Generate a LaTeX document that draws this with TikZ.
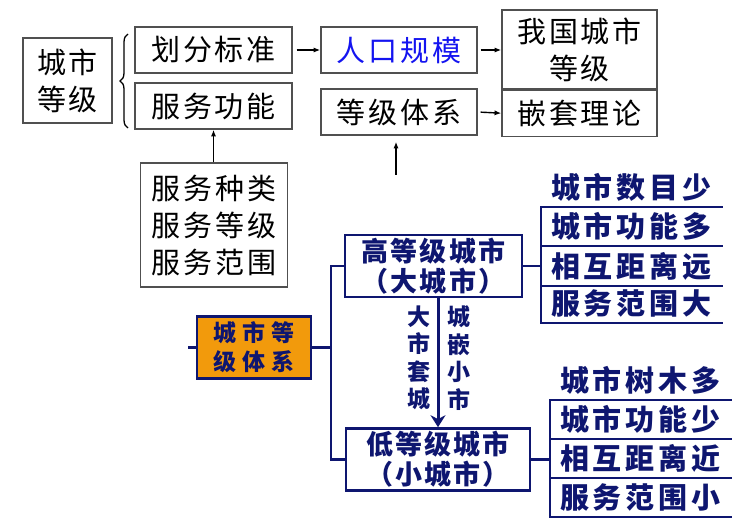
\documentclass[tikz,border=0pt]{standalone}
\usepackage{fontspec}
\usetikzlibrary{arrows.meta, positioning, calc, decorations.pathreplacing}
\newfontfamily\cjktop[LetterSpace=10]{Noto Sans CJK SC}
\newfontfamily\cjkbig[LetterSpace=13]{Noto Sans CJK SC}
\newfontfamily\cjkbox[LetterSpace=8]{Noto Sans CJK SC}
\newfontfamily\cjkora[LetterSpace=28]{Noto Sans CJK SC}
\definecolor{navy}{HTML}{0E1670}
\definecolor{boxgray}{HTML}{505050}
\definecolor{popblue}{HTML}{1414F0}
\definecolor{sysorange}{HTML}{F29A0C}

\begin{document}
\begin{tikzpicture}[x=1pt, y=-1pt,
    topbox/.style={rectangle, draw=boxgray, line width=1.2pt, inner sep=0pt, align=center,
                   font=\cjktop\fontsize{29}{37}\selectfont},
    arrow/.style={-{Latex[length=2.4mm, width=1.8mm]}, line width=1.4pt},
    navline/.style={navy, line width=2.6pt, line cap=rect},
    navbox/.style={rectangle, draw=navy, line width=2.6pt, fill=white, inner sep=0pt, align=center,
                   text=navy, font=\cjkbox\bfseries\fontsize{27}{30}\selectfont},
    sysbox/.style={navbox, fill=sysorange, font=\cjkora\bfseries\fontsize{23}{29}\selectfont},
    item/.style={anchor=south west, minimum width=180pt, minimum height=39pt, inner sep=0pt,
                 text=navy, font=\cjkbig\bfseries\fontsize{29}{33}\selectfont},
    vlab/.style={align=center, inner sep=0pt, text=navy,
                 font=\cjkbig\bfseries\fontsize{23}{27.5}\selectfont}
  ]
  \useasboundingbox (0,0) rectangle (742,524);

  % upper part
  \node[topbox, minimum width=89pt, minimum height=85pt] (grade) at (67.5,80.5) {城市\\等级};
  \node[topbox, minimum width=157pt, minimum height=46pt] (std) at (213.5,50) {划分标准};
  \node[topbox, minimum width=157pt, minimum height=46pt] (svc) at (213.5,106) {服务功能};
  \node[topbox, minimum width=156pt, minimum height=46pt, text=popblue] (pop) at (399,50) {人口规模};
  \node[topbox, minimum width=156pt, minimum height=46pt] (hier) at (399,112) {等级体系};
  \node[topbox, minimum width=155pt, minimum height=79pt] (cn) at (579.5,49.5) {我国城市\\等级};
  \node[topbox, minimum width=155pt, minimum height=46pt, below=0pt of cn] (nest) {嵌套理论};
  \node[topbox, minimum width=147pt, minimum height=124pt] (kinds) at (214,225) {服务种类\\服务等级\\服务范围};

  \coordinate (braceLo) at (128,128);
  \coordinate (braceHi) at (128,34);
  \draw[decorate, decoration={brace, amplitude=8pt}, line width=1.3pt] (braceLo) -- (braceHi);

  \draw[arrow, shorten <=4pt] (std.east) -- (pop.west);
  \draw[arrow, shorten <=3pt] (pop.east) -- (pop.east -| cn.west);
  \draw[arrow, shorten <=3pt] (hier.east) -- (nest.west);
  \draw[arrow] (kinds.north -| svc.south) -- (svc.south);
  \coordinate (hierIn) at (396,175);
  \draw[arrow, shorten >=6pt] (hierIn) -- (hierIn |- hier.south);

  % lower part
  \node[sysbox, minimum width=114pt, minimum height=62pt] (sys) at (254,347.5) {城市等\\级体系};
  \node[navbox, minimum width=177pt, minimum height=62pt] (big) at (433.5,266) {高等级城市\\（大城市）};
  \node[navbox, minimum width=184pt, minimum height=62pt] (small) at (438,459.5) {低等级城市\\（小城市）};

  \coordinate (stub) at (189,347.5);
  \coordinate (bus) at (331,347.5);
  \draw[navline] (sys.west) -- (stub);
  \draw[navline] (sys.east) -- (bus);
  \draw[navline] (big.west) -| (bus) |- (small.west);

  \draw[navy, line width=3pt, -{Stealth[length=12pt, width=15pt]}] (big.south -| small.north) -- (small.north);
  \node[vlab] (nestL) at (419,358) {大\\市\\套\\城};
  \node[vlab] (nestR) at (459,358) {城\\嵌\\小\\市};

  \foreach \t/\y [count=\i] in {城市数目少/207, 城市功能多/246, 相互距离远/286, 服务范围大/323} {
    \node[item] (hi\i) at (541,\y) {\t};
    \draw[navline] (hi\i.south west) -- (hi\i.south east);
  }
  \draw[navline] (hi1.south west) -- (hi4.south west);
  \draw[navline] (big.east) -- (big.east -| hi1.south west);

  \foreach \t/\y [count=\i] in {城市树木多/400, 城市功能少/439, 相互距离近/478, 服务范围小/517} {
    \node[item] (lo\i) at (550,\y) {\t};
    \draw[navline] (lo\i.south west) -- (lo\i.south east);
  }
  \draw[navline] (lo1.south west) -- (lo4.south west);
  \draw[navline] (small.east) -- (small.east -| lo1.south west);
\end{tikzpicture}
\end{document}
